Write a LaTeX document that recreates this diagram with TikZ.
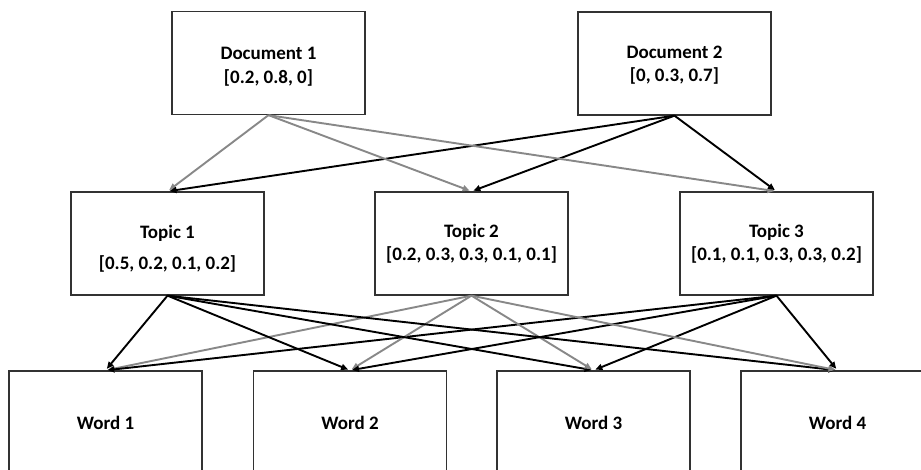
\documentclass[tikz,border=0pt]{standalone}
\usepackage{fontspec}
\setmainfont{Carlito}
\usetikzlibrary{arrows.meta}

\definecolor{boxline}{RGB}{50,50,50}
\definecolor{lightarrow}{RGB}{136,136,136}

\tikzset{
  box/.style={draw=boxline, line width=1.3pt, fill=white,
    minimum width=193pt, minimum height=103pt, inner sep=0pt},
  caption/.style={inner sep=0pt, align=center,
    font=\fontsize{19}{23}\selectfont\bfseries},
  link/.style={line width=1.9pt, shorten >=2pt,
    -{Triangle[length=7pt,width=6pt]}},
  darklink/.style={link, draw=black},
  greylink/.style={link, draw=lightarrow}
}

\begin{document}
\begin{tikzpicture}[x=1pt, y=-1pt]
  \clip (0,0) rectangle (921,469);

  % documents
  \node[box] (d1) at (268.5,63) {};
  \node[box] (d2) at (674.5,63.5) {};

  % topics
  \node[box] (t1) at (167.5,243.5) {};
  \node[box] (t2) at (471.5,243.5) {};
  \node[box] (t3) at (776.5,243.5) {};

  % words (running off the lower edge)
  \node[box] (w1) at (105.5,422.5) {};
  \node[box] (w2) at (350,422.5) {};
  \node[box] (w3) at (593.5,422.5) {};
  \node[box] (w4) at (837.5,422.5) {};

  % box texts
  \node[caption] (d1t) at ([yshift=-3.5pt]d1.center) {Document 1\\[1.5pt]{}[0.2, 0.8, 0]};
  \node[caption] (d2t) at ([yshift=-2pt]d2.center) {Document 2\\{}[0, 0.3, 0.7]};
  \node[caption] (t1t) at ([yshift=-5pt]t1.center) {Topic 1\\[8pt]{}[0.5, 0.2, 0.1, 0.2]};
  \node[caption] (t2t) at (t2.center) {Topic 2\\{}[0.2, 0.3, 0.3, 0.1, 0.1]};
  \node[caption] (t3t) at (t3.center) {Topic 3\\{}[0.1, 0.1, 0.3, 0.3, 0.2]};
  \node[caption] (w1t) at (w1.center) {Word 1};
  \node[caption] (w2t) at (w2.center) {Word 2};
  \node[caption] (w3t) at (w3.center) {Word 3};
  \node[caption] (w4t) at (w4.center) {Word 4};

  % document -> topic
  \foreach \t in {t1,t2,t3} {
    \draw[greylink] (d1.south) -- (\t.north);
    \draw[darklink] (d2.south) -- (\t.north);
  }

  % topic -> word
  \foreach \w in {w1,w2,w3,w4} {
    \draw[darklink] (t1.south) -- (\w.north);
    \draw[greylink] (t2.south) -- (\w.north);
    \draw[darklink] (t3.south) -- (\w.north);
  }
\end{tikzpicture}
\end{document}
